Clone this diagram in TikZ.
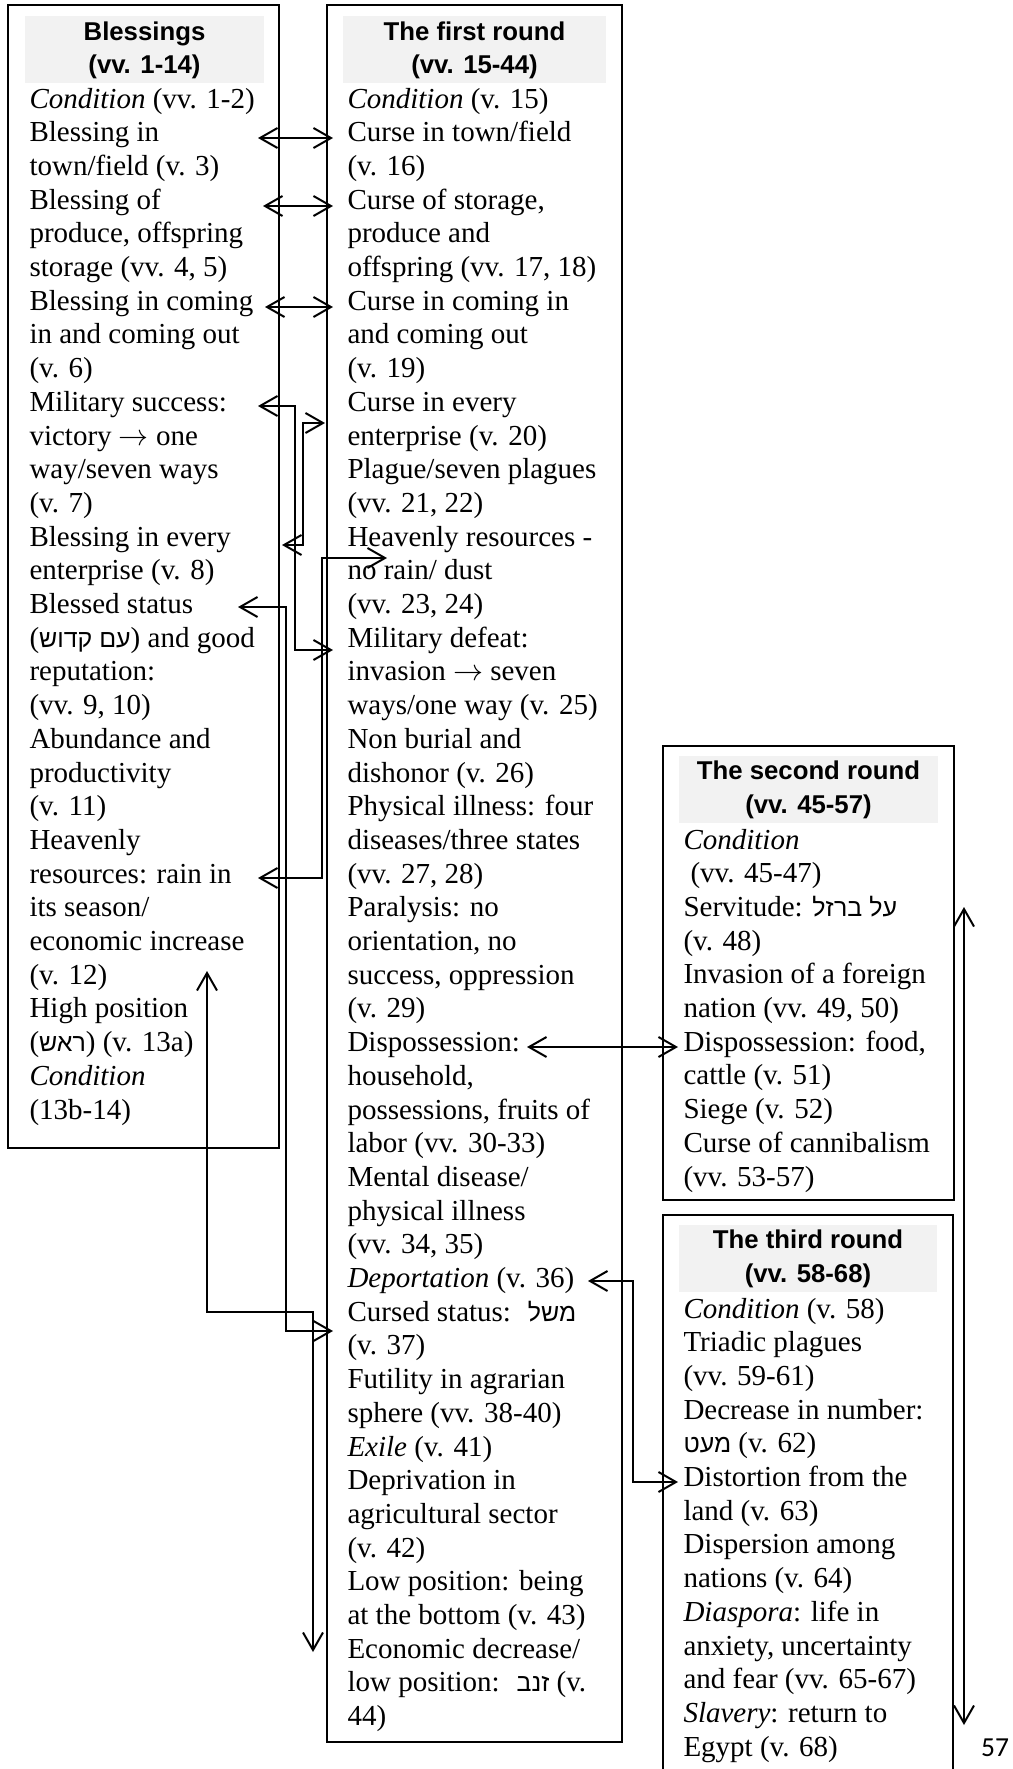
\documentclass[tikz,border=0pt]{standalone}
\usepackage{fontspec}
\setmainfont{Liberation Serif}
\newfontfamily\headfont{Liberation Sans}
\newfontfamily\hebfont[Script=Hebrew,Scale=0.86]{Liberation Sans}
\newfontfamily\pagefont{Carlito}
\TeXXeTstate=1
\usetikzlibrary{arrows.meta}
\newcommand\heb[1]{{\hebfont\beginR #1\endR}}
\newcommand\rarr{$\rightarrow$}
\definecolor{headgray}{HTML}{F2F2F2}
\tikzset{
  box/.style={draw, line width=1pt},
  headbg/.style={fill=headgray, draw=none},
  ln/.style={anchor=base west, inner sep=0pt, font=\fontsize{11.6pt}{13.5pt}\selectfont},
  hd/.style={anchor=base, inner sep=0pt, font=\headfont\bfseries\fontsize{10.3pt}{13pt}\selectfont},
  conn/.style={line width=0.8pt},
  >={Straight Barb[length=7pt,width=8pt]}
}
\begin{document}
\begin{tikzpicture}[x=0.4pt,y=-0.4pt]
\useasboundingbox (0,0) rectangle (1013,1769);
% heading backgrounds
\fill[headbg] (25,16) rectangle (264,83);
\fill[headbg] (343,16) rectangle (606,83);
\fill[headbg] (679,756) rectangle (938,823);
\fill[headbg] (679,1225) rectangle (937,1292);
% boxes
\draw[box] (8,5) rectangle (279,1148);
\draw[box] (327,5) rectangle (622,1742);
\draw[box] (663,746) rectangle (954,1200);
\draw[box] (663,1790) -- (663,1215) -- (953,1215) -- (953,1790);
% headings
\node[hd] (h1a) at (144.5,40) {Blessings};
\node[hd] (h1b) at (144.5,73) {(vv. 1-14)};
\node[hd] (h2a) at (474.5,40) {The first round};
\node[hd] (h2b) at (474.5,73) {(vv. 15-44)};
\node[hd] (h3a) at (808.5,779) {The second round};
\node[hd] (h3b) at (808.5,813) {(vv. 45-57)};
\node[hd] (h4a) at (808,1248) {The third round};
\node[hd] (h4b) at (808,1282) {(vv. 58-68)};
% left column
\foreach \t [count=\i] in {
{\textit{Condition} (vv. 1-2)},
{Blessing in},
{town/field (v. 3)},
{Blessing of},
{produce, offspring},
{storage (vv. 4, 5)},
{Blessing in coming},
{in and coming out},
{(v. 6)},
{Military success:},
{victory \rarr\ one},
{way/seven ways},
{(v. 7)},
{Blessing in every},
{enterprise (v. 8)},
{Blessed status},
{(\heb{עם קדוש}) and good},
{reputation:},
{(vv. 9, 10)},
{Abundance and},
{productivity},
{(v. 11)},
{Heavenly},
{resources: rain in},
{its season/},
{economic increase},
{(v. 12)},
{High position},
{(\heb{ראש}) (v. 13a)},
{\textit{Condition}},
{(13b-14)}}
  \node[ln] (L\i) at (29,{108+33.7*(\i-1)}) {\t};
% middle column
\foreach \t [count=\i] in {
{\textit{Condition} (v. 15)},
{Curse in town/field},
{(v. 16)},
{Curse of storage,},
{produce and},
{offspring (vv. 17, 18)},
{Curse in coming in},
{and coming out},
{(v. 19)},
{Curse in every},
{enterprise (v. 20)},
{Plague/seven plagues},
{(vv. 21, 22)},
{Heavenly resources -},
{no rain/ dust},
{(vv. 23, 24)},
{Military defeat:},
{invasion \rarr\ seven},
{ways/one way (v. 25)},
{Non burial and},
{dishonor (v. 26)},
{Physical illness: four},
{diseases/three states},
{(vv. 27, 28)},
{Paralysis: no},
{orientation, no},
{success, oppression},
{(v. 29)},
{Dispossession:},
{household,},
{possessions, fruits of},
{labor (vv. 30-33)},
{Mental disease/},
{physical illness},
{(vv. 34, 35)},
{\textit{Deportation} (v. 36)},
{Cursed status:~ \heb{משל}},
{(v. 37)},
{Futility in agrarian},
{sphere (vv. 38-40)},
{\textit{Exile} (v. 41)},
{Deprivation in},
{agricultural sector},
{(v. 42)},
{Low position: being},
{at the bottom (v. 43)},
{Economic decrease/},
{low position:~ \heb{זנב} (v.},
{44)}}
  \node[ln] (M\i) at (347,{108+33.7*(\i-1)}) {\t};
% second round
\foreach \t [count=\i] in {
{\textit{Condition}},
{\hspace*{2.8pt}(vv. 45-47)},
{Servitude: \heb{על ברזל}},
{(v. 48)},
{Invasion of a foreign},
{nation (vv. 49, 50)},
{Dispossession: food,},
{cattle (v. 51)},
{Siege (v. 52)},
{Curse of cannibalism},
{(vv. 53-57)}}
  \node[ln] (S\i) at (683,{849+33.7*(\i-1)}) {\t};
% third round
\foreach \t [count=\i] in {
{\textit{Condition} (v. 58)},
{Triadic plagues},
{(vv. 59-61)},
{Decrease in number:},
{\heb{מעט} (v. 62)},
{Distortion from the},
{land (v. 63)},
{Dispersion among},
{nations (v. 64)},
{\textit{Diaspora}: life in},
{anxiety, uncertainty},
{and fear (vv. 65-67)},
{\textit{Slavery}: return to},
{Egypt (v. 68)}}
  \node[ln] (T\i) at (683,{1318+33.7*(\i-1)}) {\t};
% page number
\node[anchor=base, inner sep=0pt, font=\pagefont\fontsize{11pt}{13pt}\selectfont] (pg) at (995,1756) {57};
% connector end points
\coordinate (a1l) at (258,138);  \coordinate (a1r) at (333,138);
\coordinate (a2l) at (263,206);  \coordinate (a2r) at (333,206);
\coordinate (a3l) at (265,307);  \coordinate (a3r) at (333,307);
\coordinate (a4l) at (258,406);  \coordinate (a4r) at (333,650);
\coordinate (a5l) at (282,545);  \coordinate (a5r) at (325,423);
\coordinate (a6l) at (238,607);  \coordinate (a6r) at (333,1331);
\coordinate (a7l) at (258,878);  \coordinate (a7r) at (387,558);
\coordinate (a8t) at (207,971);  \coordinate (a8b) at (313,1652);
\coordinate (a9l) at (527,1047); \coordinate (a9r) at (678,1047);
\coordinate (a10l) at (588,1281); \coordinate (a10r) at (678,1482);
\coordinate (a11t) at (964,907); \coordinate (a11b) at (964,1725);
% connectors
\draw[conn,<->] (a1l) -- (a1r);
\draw[conn,<->] (a2l) -- (a2r);
\draw[conn,<->] (a3l) -- (a3r);
\draw[conn,<->] (a4l) -- (295,406) -- (295,650) -- (a4r);
\draw[conn,<->] (a5l) -- (303,545) -- (303,423) -- (a5r);
\draw[conn,<->] (a6l) -- (286,607) -- (286,1331) -- (a6r);
\draw[conn,<->] (a7l) -- (322,878) -- (322,558) -- (a7r);
\draw[conn,<->] (a8t) -- (207,1312) -- (313,1312) -- (a8b);
\draw[conn,<->] (a9l) -- (a9r);
\draw[conn,<->] (a10l) -- (633,1281) -- (633,1482) -- (a10r);
\draw[conn,<->] (a11t) -- (a11b);
\end{tikzpicture}
\end{document}
